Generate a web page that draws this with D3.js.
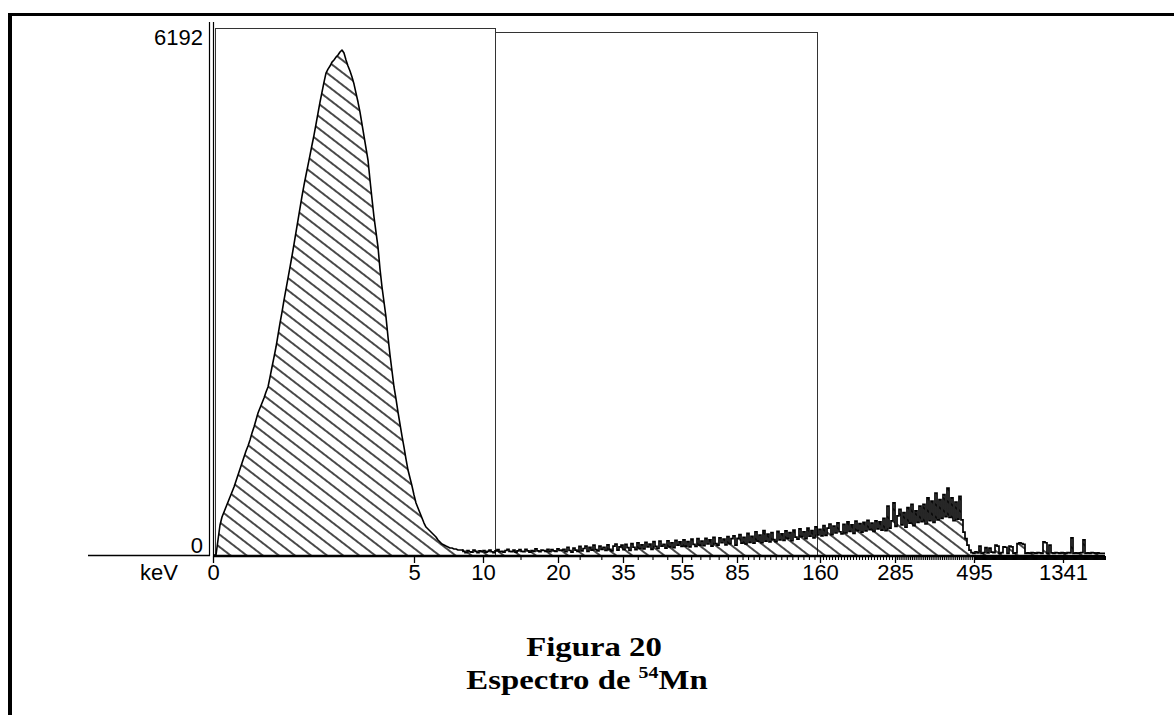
<!DOCTYPE html>
<html>
<head>
<meta charset="utf-8">
<script src="https://cdn.jsdelivr.net/npm/d3@7"></script>
<style>
  html, body { margin: 0; padding: 0; background: #fff; }
  svg { display: block; }
  .tick-label { font-family: "Liberation Sans", Arial, sans-serif; font-size: 22px; fill: #000; }
  .caption { font-family: "Liberation Serif", "Times New Roman", serif; font-weight: bold; font-size: 28px; fill: #000; }
</style>
</head>
<body>
<svg id="chart" width="1174" height="715"></svg>
<script>
// Pulse-height spectrum of 54Mn: counts per channel (2 px per channel on screen)
const counts = [
  // channels 0-124: main peak
  0, 0, 184, 368, 466, 527, 588, 650, 711, 772,
  834, 907, 981, 1054, 1128, 1201, 1275, 1336, 1410, 1496,
  1569, 1655, 1741, 1802, 1863, 1925, 1998, 2060, 2182, 2305,
  2427, 2550, 2697, 2844, 2979, 3126, 3261, 3396, 3531, 3666,
  3813, 3960, 4107, 4254, 4401, 4536, 4659, 4781, 4904, 5027,
  5149, 5284, 5419, 5554, 5676, 5799, 5909, 5958, 5995, 6044,
  6069, 6105, 6130, 6167, 6192, 6155, 6069, 5995, 5934, 5860,
  5774, 5664, 5554, 5431, 5284, 5137, 4990, 4843, 4598, 4365,
  4144, 3960, 3776, 3506, 3286, 3102, 2918, 2673, 2452, 2256,
  2060, 1913, 1753, 1606, 1459, 1324, 1177, 1042, 944, 846,
  736, 638, 576, 515, 454, 392, 343, 319, 294, 270,
  245, 221, 184, 159, 135, 123, 110, 98, 86, 86,
  74, 74, 61, 61, 61,
  // channels 125-445: low-level continuum and Compton region
  45, 30, 55, 40, 35, 60, 45, 30, 50, 40,
  55, 35, 45, 60, 40, 30, 50, 65, 40, 45,
  35, 55, 70, 45, 40, 60, 35, 50, 65, 45,
  40, 70, 50, 35, 55, 45, 75, 50, 40, 60,
  55, 45, 70, 40, 65, 50, 45, 75, 55, 60,
  70, 40, 95, 55, 35, 85, 60, 45, 105, 50,
  80, 110, 45, 95, 60, 120, 65, 50, 110, 70,
  95, 55, 125, 70, 50, 110, 135, 60, 100, 120,
  65, 130, 90, 55, 140, 95, 65, 150, 80, 125,
  75, 155, 100, 135, 70, 165, 105, 80, 170, 110,
  130, 85, 175, 100, 150, 90, 180, 120, 160, 105,
  185, 110, 165, 100, 195, 130, 105, 200, 120, 170,
  115, 205, 135, 185, 110, 215, 140, 120, 210, 150,
  195, 125, 225, 140, 200, 235, 120, 205, 250, 145,
  215, 135, 265, 155, 230, 145, 285, 170, 245, 150,
  300, 170, 255, 160, 275, 190, 165, 290, 185, 260,
  180, 295, 205, 275, 175, 305, 220, 195, 320, 225,
  285, 200, 330, 230, 300, 210, 345, 245, 315, 235,
  360, 240, 330, 380, 250, 355, 270, 395, 285, 260,
  375, 270, 405, 290, 370, 265, 415, 300, 385, 280,
  400, 295, 425, 310, 390, 290, 420, 320, 405, 305,
  450, 300, 600, 330, 420, 640, 350, 480, 560, 370,
  520, 340, 580, 390, 620, 360, 540, 400, 600, 410,
  620, 380, 700, 420, 660, 400, 760, 430, 680, 450,
  740, 470, 820, 460, 700, 420, 650, 440, 720, 430,
  280, 200, 120, 60, 30, 20, 40, 25, 110, 20,
  30, 90, 25, 85, 35, 30, 120, 110, 20, 30,
  100, 95, 20, 110, 100, 20, 25, 140, 150, 140,
  130, 20, 25, 20, 30, 25, 20, 30, 25, 20,
  160, 150, 20, 120, 25, 20, 30, 25, 20, 30,
  25, 20, 30, 25, 210, 20, 25, 20, 25, 30,
  185, 20, 25, 20, 30, 25, 20, 25, 20, 20,
  20
];

// Channel where the smooth peak outline gives way to the per-channel histogram
const peakEndChannel = 125;

// Energy calibration: labelled energies (keV) and the channels they fall on
const calKeV = [0, 5, 10, 20, 35, 55, 85, 160, 285, 495, 1341];
const calChannel = [0, 100.5, 135, 172.5, 205, 234.5, 262, 303.5, 341, 380.5, 425];

// Regions of interest (channel ranges)
const roiStart = [1, 141];
const roiEnd = [141, 302];

const yMaxLabel = 6192;
const nChannels = counts.length;

const svg = d3.select("#chart");

const x = d3.scaleLinear().domain([0, nChannels]).range([213, 1105]);
const y = d3.scaleLinear().domain([0, yMaxLabel]).range([555, 50]);
const xKeV = d3.scaleLinear().domain(calKeV).range(calChannel.map(c => x(c)));

// Page frame
svg.append("line").attr("x1", 8).attr("x2", 1174).attr("y1", 14.5).attr("y2", 14.5)
  .attr("stroke", "#000").attr("stroke-width", 3.2);
svg.append("line").attr("x1", 10).attr("x2", 10).attr("y1", 13).attr("y2", 715)
  .attr("stroke", "#000").attr("stroke-width", 4);

// Hatch pattern for the spectrum area
const defs = svg.append("defs");
const pat = defs.append("pattern")
  .attr("id", "hatch")
  .attr("patternUnits", "userSpaceOnUse")
  .attr("width", 10).attr("height", 9.8)
  .attr("patternTransform", "translate(222,555) rotate(37.6)");
pat.append("line")
  .attr("x1", -1).attr("x2", 11).attr("y1", 4.9).attr("y2", 4.9)
  .attr("stroke", "#000").attr("stroke-width", 1.4);

// Region-of-interest boxes
const roiTop = [28, 32];
roiStart.forEach((s, i) => {
  const g = svg.append("g").attr("stroke", "#333").attr("stroke-width", 1).attr("fill", "none");
  g.append("line").attr("x1", x(s) + 0.5).attr("x2", x(roiEnd[i]) + 0.5)
    .attr("y1", roiTop[i] + 0.5).attr("y2", roiTop[i] + 0.5);
  g.append("line").attr("x1", x(s) + 0.5).attr("x2", x(s) + 0.5)
    .attr("y1", roiTop[i]).attr("y2", y(0));
  g.append("line").attr("x1", x(roiEnd[i]) + 0.5).attr("x2", x(roiEnd[i]) + 0.5)
    .attr("y1", roiTop[i]).attr("y2", y(0));
});

// Y axis (double rule) and left baseline
svg.append("line").attr("x1", 209.5).attr("x2", 209.5).attr("y1", 22).attr("y2", 556)
  .attr("stroke", "#000").attr("stroke-width", 1.2);
svg.append("line").attr("x1", 213.5).attr("x2", 213.5).attr("y1", 22).attr("y2", 556)
  .attr("stroke", "#000").attr("stroke-width", 1.2);
svg.append("line").attr("x1", 88).attr("x2", 210).attr("y1", 555.5).attr("y2", 555.5)
  .attr("stroke", "#000").attr("stroke-width", 1.3);

// Spectrum: smooth outline over the peak, channel steps over the tail
const peakPts = counts.slice(0, peakEndChannel + 1).map((v, i) => [i + 0.5, v]);
const tailPts = counts.slice(peakEndChannel).map((v, i) => [peakEndChannel + i, v]);
tailPts.push([nChannels, counts[nChannels - 1]]);

const areaLin = d3.area().x(d => x(d[0])).y0(y(0)).y1(d => y(d[1]));
const areaStep = d3.area().x(d => x(d[0])).y0(y(0)).y1(d => y(d[1])).curve(d3.curveStepAfter);
const lineLin = d3.line().x(d => x(d[0])).y(d => y(d[1]));
const lineStep = d3.line().x(d => x(d[0])).y(d => y(d[1])).curve(d3.curveStepAfter);

svg.append("path").datum(peakPts).attr("d", areaLin).attr("fill", "url(#hatch)");
svg.append("path").datum(tailPts).attr("d", areaStep).attr("fill", "url(#hatch)");
svg.append("path").datum(peakPts).attr("d", lineLin)
  .attr("fill", "none").attr("stroke", "#000").attr("stroke-width", 1.6)
  .attr("stroke-linejoin", "round");
svg.append("path").datum([[peakEndChannel - 0.5, counts[peakEndChannel - 1]], ...tailPts])
  .attr("d", lineStep)
  .attr("fill", "none").attr("stroke", "#000").attr("stroke-width", 1.7)
  .attr("stroke-linejoin", "miter");

// Baseline
svg.append("line").attr("x1", x(0)).attr("x2", x(nChannels)).attr("y1", 556).attr("y2", 556)
  .attr("stroke", "#000").attr("stroke-width", 2.6);

// Energy axis: minor ticks every 5 keV, labelled ticks at calibration points
const maxKeV = xKeV.invert(x(nChannels));
const minorKeV = d3.range(0, maxKeV, 5).filter(k => !calKeV.includes(k));
const minorAxis = d3.axisBottom(xKeV).tickValues(minorKeV).tickSize(4).tickFormat("");
const gMinor = svg.append("g").attr("transform", "translate(0,556)").call(minorAxis);
gMinor.select(".domain").remove();
gMinor.selectAll(".tick line").attr("stroke", "#000").attr("stroke-width", 1.1);

const majorAxis = d3.axisBottom(xKeV).tickValues(calKeV).tickSize(7).tickPadding(6)
  .tickFormat(d3.format("d"));
const gMajor = svg.append("g").attr("transform", "translate(0,556)").call(majorAxis);
gMajor.select(".domain").remove();
gMajor.selectAll(".tick line").attr("stroke", "#000").attr("stroke-width", 1.3);
gMajor.selectAll(".tick text")
  .attr("class", "tick-label")
  .attr("font-family", null).attr("font-size", null)
  .attr("y", 24).attr("dy", null);

svg.append("text").attr("class", "tick-label")
  .attr("x", 178).attr("y", 580).attr("text-anchor", "end").text("keV");

// Count axis labels
svg.append("text").attr("class", "tick-label")
  .attr("x", 203).attr("y", y(0) - 2).attr("text-anchor", "end").text("0");
svg.append("text").attr("class", "tick-label")
  .attr("x", 203).attr("y", y(yMaxLabel) - 5).attr("text-anchor", "end").text(String(yMaxLabel));

// Caption (slightly widened serif lettering)
const capScale = 1.17;
const cap1 = svg.append("g").attr("transform", `translate(594,0) scale(${capScale},1)`);
cap1.append("text").attr("class", "caption")
  .attr("x", 0).attr("y", 656).attr("text-anchor", "middle").text("Figura 20");
const cap2g = svg.append("g").attr("transform", `translate(587,0) scale(${capScale},1)`);
const cap2 = cap2g.append("text").attr("class", "caption")
  .attr("x", 0).attr("y", 689).attr("text-anchor", "middle");
cap2.append("tspan").text("Espectro de ");
cap2.append("tspan").attr("font-size", "17px").attr("dy", -11).text("54");
cap2.append("tspan").attr("dy", 11).text("Mn");
</script>
</body>
</html>
